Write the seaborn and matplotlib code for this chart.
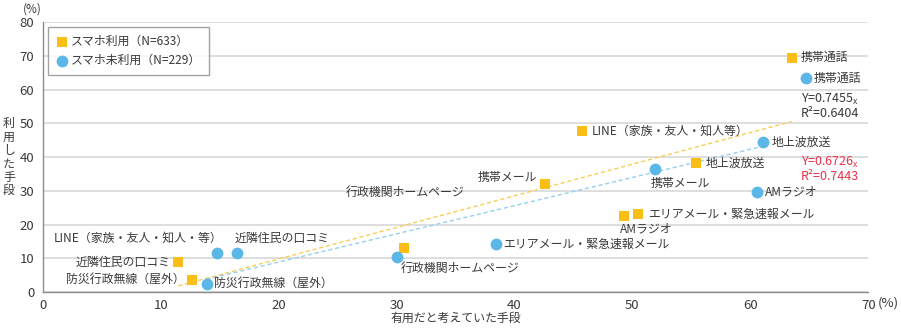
import numpy as np
import pandas as pd
import matplotlib
matplotlib.use("Agg")
import matplotlib.pyplot as plt
import seaborn as sns

# ---------------- data ----------------
series_names = ["スマホ利用（N=633）", "スマホ未利用（N=229）"]

smart_labels = ["携帯通話", "LINE（家族・友人・知人等）", "地上波放送", "携帯メール", "AMラジオ",
                "エリアメール・緊急速報メール", "行政機関ホームページ", "近隣住民の口コミ", "防災行政無線（屋外）"]
smart_x = [63.5, 45.7, 55.4, 42.6, 49.3, 50.5, 30.6, 11.5, 12.7]
smart_y = [69.5, 47.6, 38.2, 32.0, 22.5, 23.1, 13.0, 8.9, 3.6]

nonsmart_labels = ["携帯通話", "地上波放送", "携帯メール", "AMラジオ", "エリアメール・緊急速報メール",
                   "行政機関ホームページ", "LINE（家族・友人・知人・等）", "近隣住民の口コミ", "防災行政無線（屋外）"]
nonsmart_x = [64.7, 61.1, 51.9, 60.6, 38.4, 30.0, 14.8, 16.5, 13.9]
nonsmart_y = [63.3, 44.4, 36.4, 29.6, 14.2, 10.4, 11.5, 11.5, 2.4]

smart_equation = ["Y=0.7455", "R²=0.6404"]
nonsmart_equation = ["Y=0.6726", "R²=0.7443"]
smart_trend_range = [11.5, 63.5]
nonsmart_trend_range = [13.9, 61.1]

x_ticks = [0, 10, 20, 30, 40, 50, 60, 70]
y_ticks = [0, 10, 20, 30, 40, 50, 60, 70, 80]
x_axis_title = "有用だと考えていた手段"
y_axis_title = "利用した手段"

# ---------------- layout / style ----------------
ORANGE = "#FBBE17"
BLUE = "#5BB7E8"
ORANGE_LINE = "#F9CD55"
BLUE_LINE = "#95D0F0"
RED = "#E8334A"
TXT = "#3a3a3a"
GRID = "#d4d4d4"
SPINE = "#8c8c8c"

# label offsets in pixels and horizontal alignment
smart_offsets = [(9, 0, "left"), (10, 0, "left"), (10, 0, "left"), (-8, 7, "right"), (-4, -13, "left"),
                 (10, 0, "left"), (61, 56, "right"), (-8, 0, "right"), (-8, 0, "right")]
nonsmart_offsets = [(8, 0, "left"), (8, 0, "left"), (-4, -14, "left"), (8, 0, "left"), (7, 0, "left"),
                    (4, -11, "left"), (5, 15, "right"), (-3, 15, "left"), (7, 0, "left")]

sns.set_theme(style="white")
plt.rcParams["font.family"] = ["Noto Sans CJK JP", "DejaVu Sans"]
plt.rcParams["text.color"] = TXT
plt.rcParams["axes.labelcolor"] = TXT
plt.rcParams["xtick.color"] = TXT
plt.rcParams["ytick.color"] = TXT

df_s = pd.DataFrame({"x": smart_x, "y": smart_y, "label": smart_labels, "group": series_names[0]})
df_n = pd.DataFrame({"x": nonsmart_x, "y": nonsmart_y, "label": nonsmart_labels, "group": series_names[1]})

fig = plt.figure(figsize=(9.01, 3.30), dpi=100)
ax = fig.add_axes([0.0474, 0.115, 0.9163, 0.818])

# gridlines
ax.set_axisbelow(True)
ax.yaxis.grid(True, color=GRID, linewidth=1.1)
ax.xaxis.grid(False)

# trend lines (least squares fit of each series)
for df, rng, col in [(df_s, smart_trend_range, ORANGE_LINE), (df_n, nonsmart_trend_range, BLUE_LINE)]:
    k, b = np.polyfit(df["x"], df["y"], 1)
    xs = np.array(rng)
    ax.plot(xs, k * xs + b, color=col, linewidth=1.0, linestyle=(0, (3, 2)), zorder=2)

sns.scatterplot(data=df_s, x="x", y="y", marker="s", color=ORANGE, s=58, linewidth=0,
                label=series_names[0], ax=ax, zorder=3)
sns.scatterplot(data=df_n, x="x", y="y", marker="o", color=BLUE, s=72, linewidth=0,
                label=series_names[1], ax=ax, zorder=3)

FS = 8.6
for df, offs in [(df_s, smart_offsets), (df_n, nonsmart_offsets)]:
    for (x, y, lab), (dx, dy, ha) in zip(df[["x", "y", "label"]].values, offs):
        ax.annotate(lab, (x, y), xytext=(dx, dy), textcoords="offset pixels",
                    ha=ha, va="center", fontsize=FS, color=TXT, zorder=4)

# equations
ax.text(64.3, 57.2, smart_equation[0] + r"$_\mathregular{x}$", fontsize=FS + 0.4, color=TXT, ha="left", va="center")
ax.text(64.3, 52.8, smart_equation[1], fontsize=FS + 0.4, color=TXT, ha="left", va="center")
ax.text(64.3, 38.3, nonsmart_equation[0] + r"$_\mathregular{x}$", fontsize=FS + 0.4, color=RED, ha="left", va="center")
ax.text(64.3, 34.2, nonsmart_equation[1], fontsize=FS + 0.4, color=RED, ha="left", va="center")

ax.set_xlim(0, 70)
ax.set_ylim(0, 80)
ax.set_xticks(x_ticks)
ax.set_yticks(y_ticks)
ax.tick_params(axis="x", direction="in", length=5, width=1, color=SPINE, labelsize=9.5, pad=5)
ax.tick_params(axis="y", length=0, labelsize=9.5, pad=6)

for side in ["top", "right"]:
    ax.spines[side].set_visible(False)
for side in ["left", "bottom"]:
    ax.spines[side].set_color(SPINE)
    ax.spines[side].set_linewidth(1.0)

ax.set_xlabel(x_axis_title, fontsize=FS, va="center")
ax.xaxis.set_label_coords(0.5, -0.097)
ax.set_ylabel("\n".join(y_axis_title), rotation=0, fontsize=FS, va="center", ha="center", linespacing=1.05)
ax.yaxis.set_label_coords(-0.041, 0.5)

ax.text(-0.013, 1.05, "(%)", transform=ax.transAxes, ha="center", va="center", fontsize=8.5)
ax.text(1.011, -0.042, "(%)", transform=ax.transAxes, ha="left", va="center", fontsize=9.5)

leg = ax.legend(loc="upper left", bbox_to_anchor=(0.006, 0.983), borderaxespad=0,
                frameon=True, fancybox=False, fontsize=FS, handletextpad=0.2,
                borderpad=0.7, labelspacing=0.5, handlelength=1.0)
leg.get_frame().set_edgecolor(SPINE)
leg.get_frame().set_linewidth(1.0)

fig.savefig("out.png", dpi=100)
